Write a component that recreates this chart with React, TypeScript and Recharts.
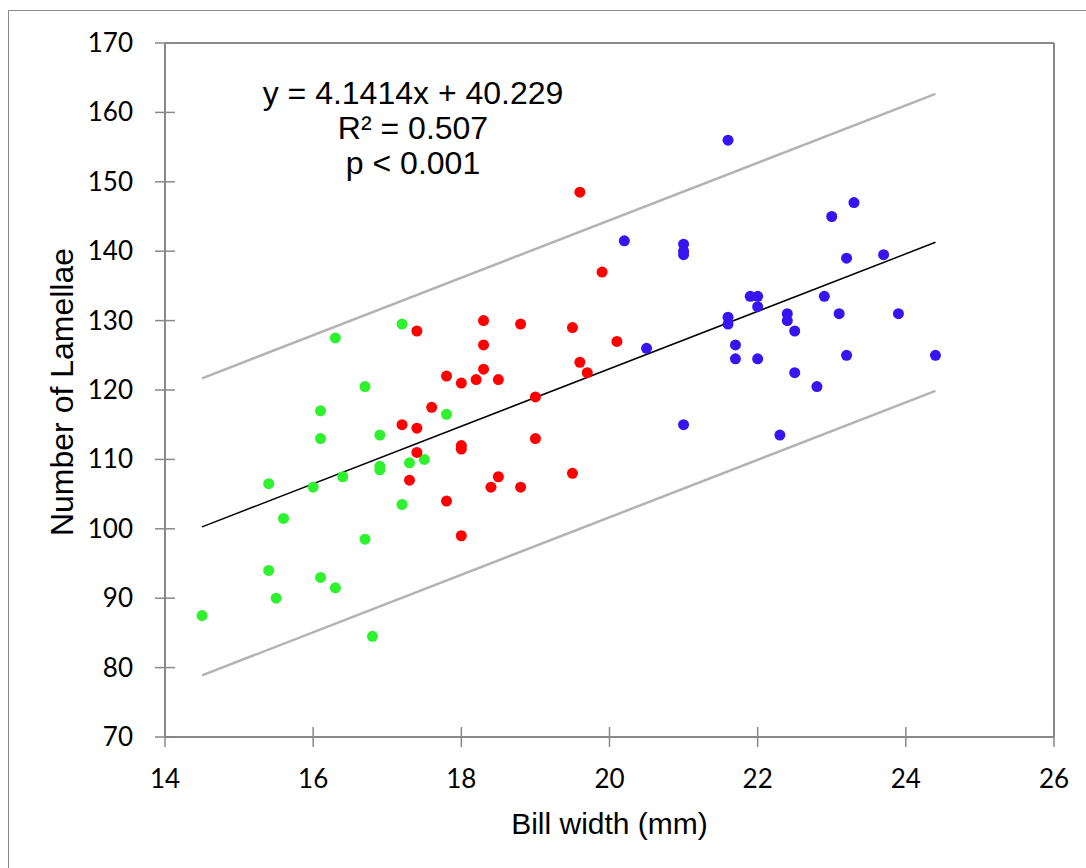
import React from "react";
import { ScatterChart, Scatter, XAxis, YAxis, ReferenceLine, Label } from "recharts";

// ---- data ----
const greenX = [17.2, 16.3, 16.7, 16.1, 17.8, 16.1, 16.9, 17.5, 17.3, 16.9, 16.9, 16.4, 16.0, 15.4, 17.2, 15.6, 16.7, 15.4, 16.1, 16.3, 15.5, 14.5, 16.8];
const greenY = [129.5, 127.5, 120.5, 117, 116.5, 113, 113.5, 110, 109.5, 109, 108.5, 107.5, 106, 106.5, 103.5, 101.5, 98.5, 94, 93, 91.5, 90, 87.5, 84.5];

const redX = [19.6, 19.9, 18.3, 18.8, 19.5, 17.4, 18.3, 20.1, 19.6, 19.7, 18.3, 17.8, 18.0, 18.2, 18.5, 19.0, 17.6, 17.2, 17.4, 19.0, 18.0, 18.0, 17.4, 19.5, 18.5, 17.3, 18.4, 18.8, 17.8, 18.0];
const redY = [148.5, 137, 130, 129.5, 129, 128.5, 126.5, 127, 124, 122.5, 123, 122, 121, 121.5, 121.5, 119, 117.5, 115, 114.5, 113, 112, 111.5, 111, 108, 107.5, 107, 106, 106, 104, 99];

const blueX = [21.6, 23.3, 23.0, 20.2, 21.0, 21.0, 21.0, 23.2, 23.7, 21.9, 22.0, 22.0, 22.9, 21.6, 21.6, 22.4, 22.4, 23.1, 23.9, 22.5, 20.5, 21.7, 21.7, 22.0, 23.2, 24.4, 22.5, 22.8, 21.0, 22.3];
const blueY = [156, 147, 145, 141.5, 141, 140, 139.5, 139, 139.5, 133.5, 133.5, 132, 133.5, 130.5, 129.5, 131, 130, 131, 131, 128.5, 126, 126.5, 124.5, 124.5, 125, 125, 122.5, 120.5, 115, 113.5];

const xTicks = [14, 16, 18, 20, 22, 24, 26];
const yTicks = [70, 80, 90, 100, 110, 120, 130, 140, 150, 160, 170];

const fitSlope = 4.1414;
const fitIntercept = 40.229;
const fitRange = [14.5, 24.4];
const bandOffset = 21.4;

const equationLines = ["y = 4.1414x + 40.229", "R² = 0.507", "p < 0.001"];

const toPoints = (xs: number[], ys: number[]) => xs.map((x, i) => ({ x, y: ys[i] }));
const greenData = toPoints(greenX, greenY);
const redData = toPoints(redX, redY);
const blueData = toPoints(blueX, blueY);

const fitSeg = (off: number) =>
  fitRange.map((x) => ({ x, y: fitSlope * x + fitIntercept + off }));

const AXIS_COLOR = "#898989";
const TICK_FONT = "Lato, 'Liberation Sans', sans-serif";
const TITLE_FONT = "'Liberation Sans', Arial, sans-serif";

const XTick = (props: any) => {
  const { x, y, payload } = props;
  const axisY = y - 10;
  return (
    <g>
      <line x1={x} x2={x} y1={axisY - 10} y2={axisY + 10} stroke={AXIS_COLOR} strokeWidth={1.5} />
      <text x={x} y={axisY + 51} textAnchor="middle" fontFamily={TICK_FONT} fontSize={26} fill="#000">
        {payload.value}
      </text>
    </g>
  );
};

const YTick = (props: any) => {
  const { x, y, payload } = props;
  const axisX = x + 10;
  return (
    <g>
      <line x1={axisX - 10} x2={axisX + 10} y1={y} y2={y} stroke={AXIS_COLOR} strokeWidth={1.5} />
      <text x={axisX - 32} y={y + 9} textAnchor="end" fontFamily={TICK_FONT} fontSize={26} fill="#000">
        {payload.value}
      </text>
    </g>
  );
};

const dot = (color: string) => (p: any) => <circle cx={p.cx} cy={p.cy} r={5.5} fill={color} />;

export default function App() {
  return (
    <div style={{ position: "absolute", left: 0, top: 0, width: 1086, height: 868, background: "#fff", overflow: "hidden" }}>
      <div
        style={{
          position: "absolute",
          left: 8,
          top: 10,
          width: 1100,
          height: 900,
          borderTop: "1px solid #8a8a8a",
          borderLeft: "1px solid #8a8a8a",
        }}
      />
      <div style={{ position: "absolute", left: 0, top: 0 }}>
        <ScatterChart width={1086} height={868} margin={{ top: 43, right: 32, bottom: 0, left: 0 }}>
          <XAxis
            type="number"
            dataKey="x"
            domain={[14, 26]}
            ticks={xTicks}
            interval={0}
            height={131}
            tickSize={10}
            tickMargin={0}
            tickLine={false}
            axisLine={{ stroke: AXIS_COLOR, strokeWidth: 2 }}
            tick={<XTick />}
            allowDataOverflow
          >
            <Label
              content={(p: any) => {
                const vb = p.viewBox;
                return (
                  <text x={vb.x + vb.width / 2} y={vb.y + 97} textAnchor="middle" fontFamily={TITLE_FONT} fontSize={30} fill="#000">
                    Bill width (mm)
                  </text>
                );
              }}
            />
          </XAxis>
          <YAxis
            type="number"
            dataKey="y"
            domain={[70, 170]}
            ticks={yTicks}
            interval={0}
            width={165}
            tickSize={10}
            tickMargin={0}
            tickLine={false}
            axisLine={{ stroke: AXIS_COLOR, strokeWidth: 2 }}
            tick={<YTick />}
            allowDataOverflow
          >
            <Label
              content={(p: any) => {
                const vb = p.viewBox;
                const cy = vb.y + vb.height / 2 + 2;
                return (
                  <text
                    x={73}
                    y={cy}
                    transform={`rotate(-90, 73, ${cy})`}
                    textAnchor="middle"
                    fontFamily={TITLE_FONT}
                    fontSize={32}
                    fill="#000"
                  >
                    Number of Lamellae
                  </text>
                );
              }}
            />
          </YAxis>
          <ReferenceLine y={170} stroke={AXIS_COLOR} strokeWidth={2} />
          <ReferenceLine x={26} stroke={AXIS_COLOR} strokeWidth={2} />
          <ReferenceLine segment={fitSeg(bandOffset)} stroke="#b3b3b3" strokeWidth={2.5} ifOverflow="visible" />
          <ReferenceLine segment={fitSeg(-bandOffset)} stroke="#b3b3b3" strokeWidth={2.5} ifOverflow="visible" />
          <ReferenceLine segment={fitSeg(0)} stroke="#000" strokeWidth={1.5} ifOverflow="visible" />
          <Scatter data={greenData} fill="#2df22d" shape={dot("#2df22d")} isAnimationActive={false} />
          <Scatter data={redData} fill="#ff0000" shape={dot("#ff0000")} isAnimationActive={false} />
          <Scatter data={blueData} fill="#3814f0" shape={dot("#3814f0")} isAnimationActive={false} />
        </ScatterChart>
      </div>
      <div
        style={{
          position: "absolute",
          left: 263 - 100,
          width: 500,
          top: 76,
          textAlign: "center",
          fontFamily: TITLE_FONT,
          fontSize: 32,
          lineHeight: "35px",
          color: "#000",
        }}
      >
        {equationLines.map((l, i) => (
          <div key={i}>{l}</div>
        ))}
      </div>
    </div>
  );
}
